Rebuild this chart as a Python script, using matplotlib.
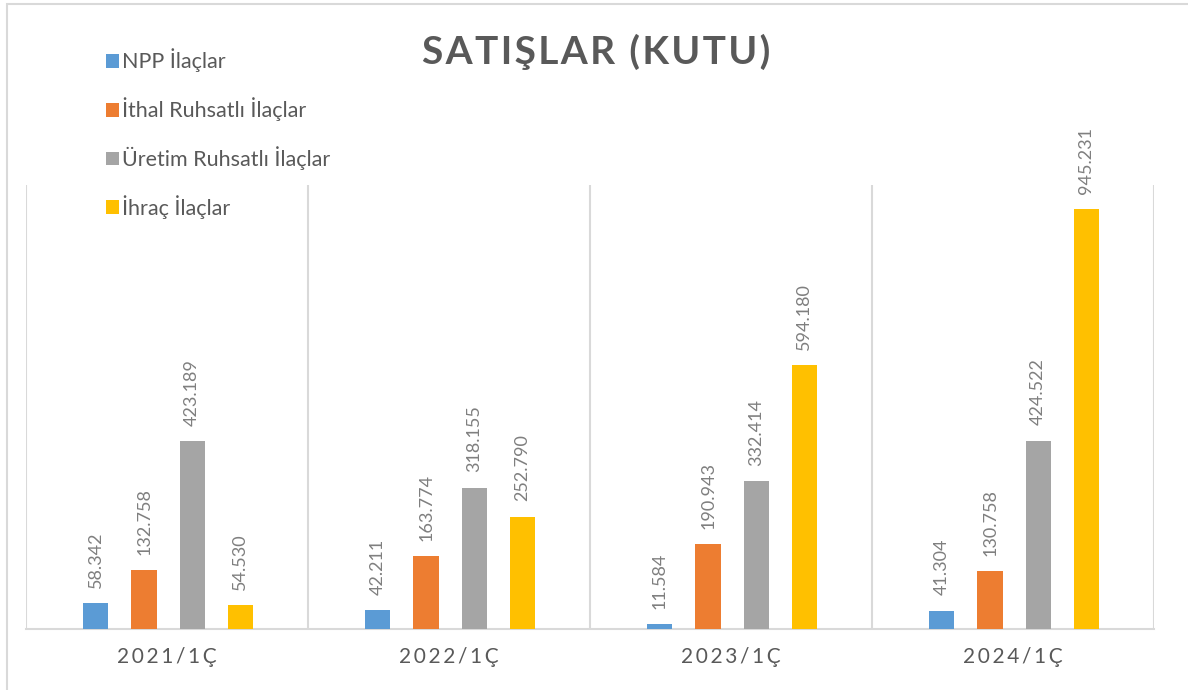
import numpy as np
import matplotlib
matplotlib.use("Agg")
import matplotlib.pyplot as plt
from matplotlib.patches import Rectangle

plt.rcParams['font.family'] = ['Lato', 'DejaVu Sans']

categories = ["2021/1Ç", "2022/1Ç", "2023/1Ç", "2024/1Ç"]
series_names = ["NPP İlaçlar", "İthal Ruhsatlı İlaçlar", "Üretim Ruhsatlı İlaçlar", "İhraç İlaçlar"]
npp = [58.342, 42.211, 11.584, 41.304]
ithal = [132.758, 163.774, 190.943, 130.758]
uretim = [423.189, 318.155, 332.414, 424.522]
ihrac = [54.530, 252.790, 594.180, 945.231]
colors = ["#5b9bd5", "#ed7d31", "#a5a5a5", "#ffc000"]

W, H = 1188, 690
fig = plt.figure(figsize=(W / 100, H / 100), dpi=100)
ax = fig.add_axes([26 / W, 1 - 629 / H, (1154 - 26) / W, (629 - 185) / H])

# outer chart border
fig.patches.append(Rectangle((7 / W, -0.05), 1.2, 1 - 4 / H + 0.05, transform=fig.transFigure,
                             fill=False, edgecolor="#d9d9d9", lw=1.5, zorder=0))

x = np.arange(len(categories))
step = 0.171
width = 0.089
offsets = (np.arange(4) - 1.5) * step + 0.004
data = [npp, ithal, uretim, ihrac]
for vals, off, c, name in zip(data, offsets, colors, series_names):
    bars = ax.bar(x + off, vals, width, color=c, label=name, zorder=3)
    for b, v in zip(bars, vals):
        ax.annotate(f"{v:.3f}", (b.get_x() + b.get_width() / 2, v), xytext=(0, 11),
                    textcoords="offset points", rotation=90, ha="center", va="bottom",
                    fontsize=13, color="#7f7f7f")

ax.set_xlim(-0.5, 3.5)
ax.set_ylim(0, 1000)
for xv in np.arange(-0.5, 4, 1):
    ax.axvline(xv, color="#d9d9d9", lw=1.5, zorder=1)
for s in ["top", "right", "left"]:
    ax.spines[s].set_visible(False)
ax.spines["bottom"].set_color("#d9d9d9")
ax.spines["bottom"].set_linewidth(1.5)
ax.set_yticks([])
ax.set_xticks(x)
ax.set_xticklabels(["\u2009".join(c) for c in categories], fontsize=15, color="#595959")
ax.tick_params(axis="x", length=0, pad=13)

fig.text(596 / W, 1 - 52 / H, "\u200a".join("SATIŞLAR (KUTU)"),
         ha="center", va="center", fontsize=28, fontweight="bold", color="#595959")

leg = ax.legend(loc="upper left", bbox_to_anchor=(97 / W, 1 - 40 / H), bbox_transform=fig.transFigure,
                frameon=False, fontsize=15.5, labelspacing=1.16, handlelength=0.6, handleheight=0.6,
                handletextpad=0.15, borderaxespad=0)
for t in leg.get_texts():
    t.set_color("#595959")

fig.savefig("out.png", dpi=100)
